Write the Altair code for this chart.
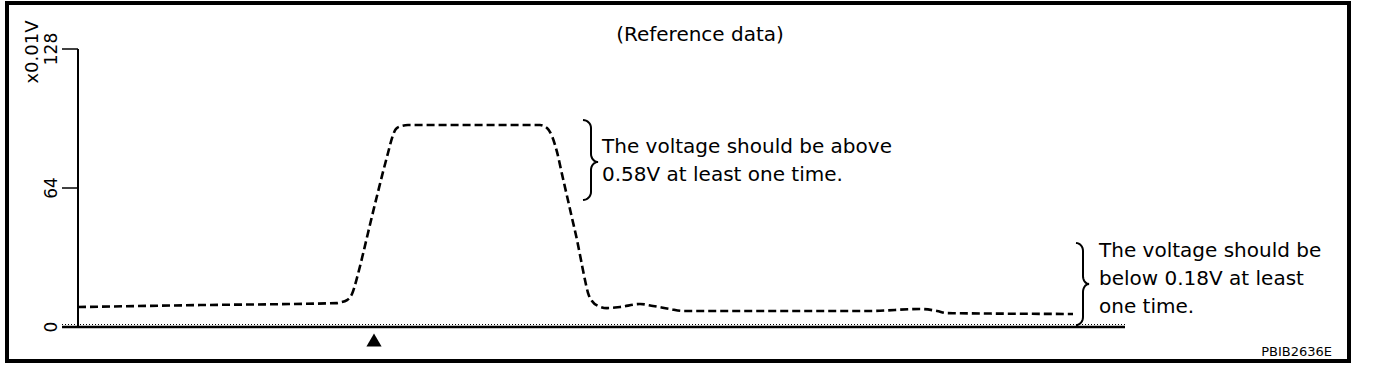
import altair as alt
import pandas as pd
import numpy as np

# ---- data (time in s, signal in x0.01 V) ----
time_s = [0.00, 1.22, 2.59, 2.62, 2.69, 2.74, 2.80, 2.85, 2.90, 2.95, 3.00, 3.05,
          3.10, 3.14, 3.18, 3.23, 3.30, 4.62, 4.69, 4.74, 4.79, 4.84, 4.89, 4.94,
          4.99, 5.03, 5.07, 5.10, 5.14, 5.20, 5.29, 5.42, 5.62, 5.75, 5.92, 6.05,
          7.92, 8.42, 8.59, 8.69, 9.95]
voltage = [9.2, 10.1, 11.0, 11.3, 12.4, 15.2, 24.4, 33.6, 43.3, 52.9, 62.2, 71.4,
           80.1, 87.0, 91.2, 92.5, 93.0, 93.0, 91.6, 87.9, 80.6, 70.4, 60.3, 50.2,
           40.1, 30.8, 21.6, 15.7, 12.0, 9.7, 8.7, 9.2, 10.6, 9.7, 8.3, 7.4,
           7.4, 8.3, 7.4, 6.4, 6.0]

y_ticks = [0, 64, 128]
y_unit = "x0.01V"
trigger_time = [2.96]
title_text = "(Reference data)"
note_high = "The voltage should be above\n0.58V at least one time."
note_low = "The voltage should be\nbelow 0.18V at least\none time."
code_text = "PBIB2636E"
axis_end_time = 10.47

# ---- scales (view = outer frame) ----
x_scale = alt.Scale(domain=[-0.71, 12.71], nice=False, zero=False)
y_scale = alt.Scale(domain=[-15.65, 149.18], nice=False, zero=False)


def X(field):
    return alt.X(field, type="quantitative", scale=x_scale, axis=None)


def Y(field):
    return alt.Y(field, type="quantitative", scale=y_scale, axis=None)


FONT = "DejaVu Sans"

curve_df = pd.DataFrame({"t": time_s, "v": voltage})
curve = alt.Chart(curve_df).mark_line(
    color="black", strokeWidth=2.6, strokeDash=[8, 4], interpolate="monotone"
).encode(x=X("t"), y=Y("v"))

# axis lines
yaxis_df = pd.DataFrame({"t": [0.0], "v": [0.0], "v2": [float(max(y_ticks))]})
yaxis_line = alt.Chart(yaxis_df).mark_rule(color="black", strokeWidth=2).encode(
    x=X("t"), y=Y("v"), y2="v2"
)
xaxis_df = pd.DataFrame({"t": [-0.16], "t2": [axis_end_time], "v": [0.0]})
xaxis_line = alt.Chart(xaxis_df).mark_rule(color="black", strokeWidth=2.5).encode(
    x=X("t"), x2="t2", y=Y("v")
)
xaxis_dots = alt.Chart(xaxis_df).mark_rule(
    color="black", strokeWidth=1, strokeDash=[1, 2], yOffset=-2.5
).encode(x=X("t"), x2="t2", y=Y("v"))

# y ticks and labels
tick_df = pd.DataFrame({"t": [-0.16] * len(y_ticks), "t2": [0.0] * len(y_ticks),
                        "v": y_ticks, "label": [str(v) for v in y_ticks]})
ticks = alt.Chart(tick_df).mark_rule(color="black", strokeWidth=1.5).encode(
    x=X("t"), x2="t2", y=Y("v")
)
tick_labels = alt.Chart(tick_df).mark_text(
    color="black", font=FONT, fontSize=17, angle=270, align="center",
    baseline="middle", dy=-26
).encode(x=X("t2"), y=Y("v"), text="label:N")

# trigger marker
trig_df = pd.DataFrame({"t": trigger_time, "v": [-6.0]})
trigger = alt.Chart(trig_df).mark_point(
    shape="triangle-up", filled=True, size=230, color="black", opacity=1
).encode(x=X("t"), y=Y("v"))


# braces (annotation shapes built from their anchor values)
def brace(name, t_end, t_spine, t_tip, v_top, v_mid, v_bot, rv):
    k = np.linspace(0, np.pi / 2, 9)
    pts = []
    for a in k:
        pts.append((t_end + (t_spine - t_end) * np.sin(a), v_top - rv + rv * np.cos(a)))
    for a in k:
        pts.append((t_tip - (t_tip - t_spine) * np.cos(a), v_mid + rv - rv * np.sin(a)))
    for a in k:
        pts.append((t_tip - (t_tip - t_spine) * np.sin(a), v_mid - rv + rv * np.cos(a)))
    for a in k:
        pts.append((t_end + (t_spine - t_end) * np.cos(a), v_bot + rv - rv * np.sin(a)))
    return pd.DataFrame({"t": [p[0] for p in pts], "v": [p[1] for p in pts],
                         "i": list(range(len(pts))), "b": name})


brace_df = pd.concat([
    brace("high", 5.05, 5.13, 5.20, 95.3, 76.0, 58.5, 3.7),
    brace("low", 9.98, 10.05, 10.11, 38.7, 19.8, 0.9, 3.7),
])
braces = alt.Chart(brace_df).mark_line(color="black", strokeWidth=2).encode(
    x=X("t"), y=Y("v"), order="i:Q", detail="b:N"
)


def text_layer(t, v, label, **kw):
    df = pd.DataFrame({"t": [t], "v": [v], "label": [label]})
    return alt.Chart(df).mark_text(color="black", font=FONT, lineBreak="\n", **kw).encode(
        x=X("t"), y=Y("v"), text="label:N"
    )


title = text_layer(6.22, 131.7, title_text, fontSize=20, align="center", baseline="alphabetic")
unit = text_layer(-0.45, 126.6, y_unit, fontSize=18, align="center", baseline="middle", angle=270)
hi = text_layer(5.24, 80.1, note_high, fontSize=20, align="left", baseline="alphabetic", lineHeight=28)
lo = text_layer(10.21, 32.2, note_low, fontSize=20, align="left", baseline="alphabetic", lineHeight=28)
code = text_layer(12.54, -13.35, code_text, fontSize=13, align="right", baseline="alphabetic")

chart = alt.layer(
    xaxis_dots, xaxis_line, yaxis_line, ticks, tick_labels, curve, braces, trigger,
    title, unit, hi, lo, code
).properties(
    width=1342, height=358,
    padding={"left": 7, "top": 3, "right": 27, "bottom": 11},
    autosize=alt.AutoSizeParams(type="none"),
    background="white",
).configure_view(stroke="black", strokeWidth=4)

chart.save("out.html", embed_options={"renderer": "svg", "actions": False})
